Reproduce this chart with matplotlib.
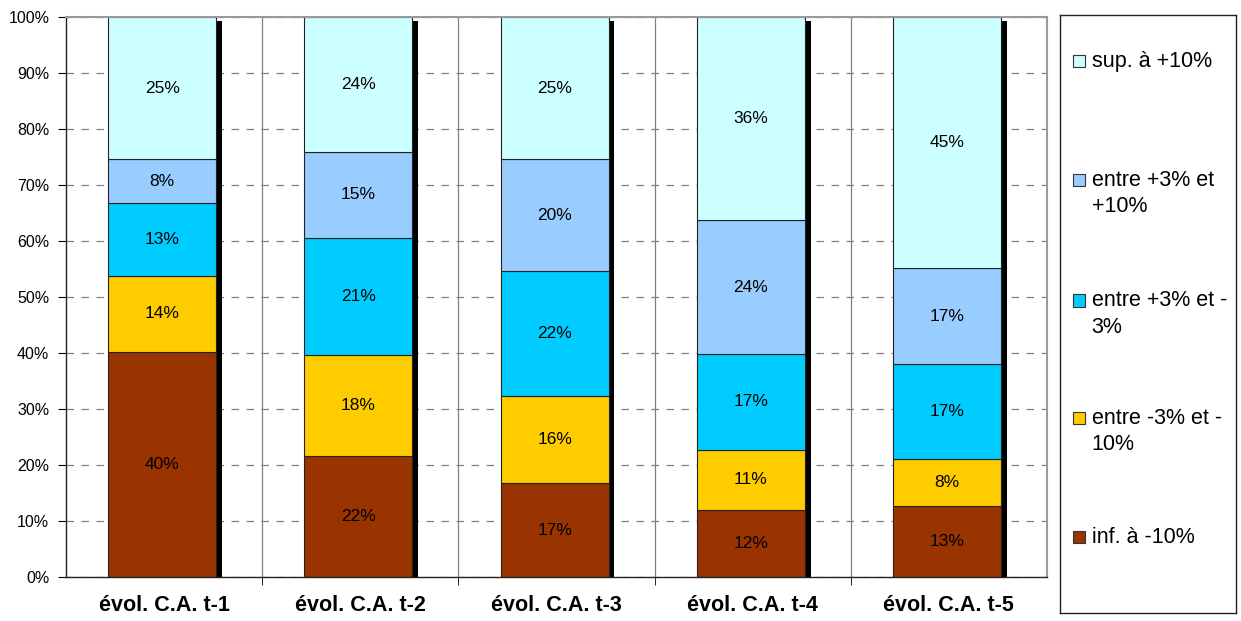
import numpy as np
import matplotlib.pyplot as plt
from matplotlib.patches import Rectangle

plt.rcParams['font.family'] = ['Liberation Sans', 'DejaVu Sans']

categories = ['évol. C.A. t-1', 'évol. C.A. t-2', 'évol. C.A. t-3',
              'évol. C.A. t-4', 'évol. C.A. t-5']

# shares per class, bottom to top (percent)
inf_m10 = [40.2, 21.6, 16.7, 12.0, 12.7]
m3_m10 = [13.6, 18.0, 15.7, 10.7, 8.4]
p3_m3 = [12.9, 21.0, 22.2, 17.1, 16.9]
p3_p10 = [7.9, 15.3, 20.0, 23.9, 17.2]
sup_p10 = [25.4, 24.1, 25.4, 36.3, 44.8]

series = [inf_m10, m3_m10, p3_m3, p3_p10, sup_p10]
names = ['inf. à -10%', 'entre -3% et -\n10%', 'entre +3% et -\n3%',
         'entre +3% et\n+10%', 'sup. à +10%']
colors = ['#993300', '#FFCC00', '#00CCFF', '#99CCFF', '#CCFFFF']

fig = plt.figure(figsize=(12.41, 6.21), dpi=100)
ax = fig.add_axes([0.0532, 0.0709, 0.7905, 0.9017])

x = np.arange(len(categories))
width = 0.55
shift = -0.01

# black drop shadow behind each bar
ax.bar(x + shift + 0.03, [99.3] * len(x), width, color='black', zorder=1)

bottom = np.zeros(len(x))
for vals, col in zip(series, colors):
    vals = np.array(vals)
    bars = ax.bar(x + shift, vals, width, bottom=bottom, color=col,
                  edgecolor='#222222', linewidth=0.8, zorder=2)
    for b, v, b0 in zip(bars, vals, bottom):
        ax.text(b.get_x() + b.get_width() / 2, b0 + v / 2,
                '%d%%' % round(v), ha='center', va='center',
                fontsize=12.5, zorder=3)
    bottom += vals

ax.set_xlim(-0.5, len(x) - 0.5)
ax.set_ylim(0, 100)
ax.set_yticks(np.arange(0, 101, 10))
ax.set_yticklabels(['%d%%' % v for v in range(0, 101, 10)], fontsize=11.5)
ax.yaxis.grid(True, color='#808080', linestyle=(0, (6, 6)), linewidth=0.9)

ax.set_xticks(x)
ax.set_xticklabels(categories, fontsize=15.5, fontweight='bold')
ax.set_xticks(np.arange(0.5, len(x) - 0.5, 1), minor=True)
ax.xaxis.grid(True, which='minor', color='#808080', linewidth=0.9)
ax.tick_params(axis='x', which='major', length=0, pad=13)
ax.tick_params(axis='x', which='minor', length=6, direction='out')
ax.tick_params(axis='y', length=6, direction='out', pad=6)
ax.set_axisbelow(True)

for side in ['left', 'bottom']:
    ax.spines[side].set_color('#222222')
    ax.spines[side].set_linewidth(1.0)
for side in ['top', 'right']:
    ax.spines[side].set_color('#999999')
    ax.spines[side].set_linewidth(1.5)

# legend panel on the right
lax = fig.add_axes([0.854, 0.0129, 0.142, 0.9629])
lax.set_xlim(0, 1)
lax.set_ylim(0, 1)
lax.set_xticks([])
lax.set_yticks([])
for s in lax.spines.values():
    s.set_color('#222222')
    s.set_linewidth(1.0)

ys = [0.127, 0.326, 0.523, 0.724, 0.923]
line_step = 0.045
for name, col, yy in zip(names, colors, ys):
    lax.add_patch(Rectangle((0.075, yy - 0.0105), 0.07, 0.021,
                            facecolor=col, edgecolor='#333333',
                            linewidth=0.8))
    for i, line in enumerate(name.split('\n')):
        lax.text(0.18, yy - i * line_step, line, ha='left', va='center',
                 fontsize=15.5)

fig.savefig('out.png', dpi=100)
